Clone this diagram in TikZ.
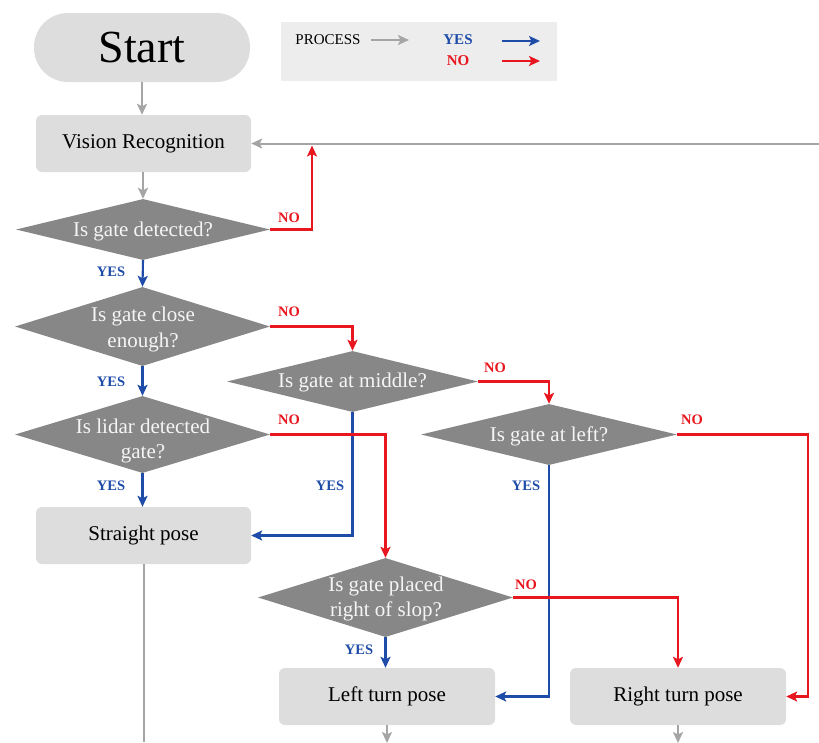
\documentclass[tikz,border=0pt]{standalone}
\usepackage{fontspec}
\setmainfont{LiberationSerif}[Extension=.ttf,UprightFont=*-Regular,BoldFont=*-Bold,
  ItalicFont=*-Italic,BoldItalicFont=*-BoldItalic]
\usetikzlibrary{shapes.geometric,arrows.meta}

\definecolor{boxgray}{HTML}{DCDDDC}
\definecolor{diagray}{HTML}{878787}
\definecolor{linegray}{HTML}{A5A5A5}
\definecolor{yesblue}{HTML}{1E4CA8}
\definecolor{nored}{HTML}{E8161E}
\definecolor{legendbg}{HTML}{EDEDED}

\tikzset{
  tip/.tip={Stealth[length=11pt,width=10pt,inset=2.5pt]},
  stepbox/.style={draw=none,fill=boxgray,rounded corners=6pt,minimum width=215pt,
    minimum height=57pt,inner sep=0pt,font=\fontsize{21}{25}\selectfont},
  startbox/.style={draw=none,fill=boxgray,rounded corners=34pt,minimum width=216pt,
    minimum height=69pt,inner sep=0pt,font=\fontsize{46}{52}\selectfont},
  decision/.style={diamond,draw=none,fill=diagray,inner sep=0pt},
  dtext/.style={text=white!96!black,align=center,inner sep=0pt,
    font=\fontsize{21}{25.5}\selectfont},
  garrow/.style={draw=linegray,line width=2pt,-tip},
  gline/.style={draw=linegray,line width=2pt},
  yarrow/.style={draw=yesblue,line width=2.1pt,-tip},
  narrow/.style={draw=nored,line width=2.1pt,-tip},
  ylabel/.style={text=yesblue,font=\fontsize{14.5}{16}\selectfont\bfseries,inner sep=0pt},
  nlabel/.style={text=nored,font=\fontsize{14.5}{16}\selectfont\bfseries,inner sep=0pt},
}

\begin{document}
\begin{tikzpicture}[x=1pt,y=-1pt]
\useasboundingbox (0,0) rectangle (819,742);

% legend
\node[fill=legendbg,minimum width=276pt,minimum height=59pt,inner sep=0pt] (legend) at (419,51.5) {};
\node[font=\fontsize{15}{17}\selectfont,inner sep=0pt] (lproc) at (328,40) {PROCESS};
\coordinate (lg1) at (371,40); \coordinate (lg2) at (409,40);
\draw[garrow] (lg1) -- (lg2);
\node[ylabel,font=\fontsize{15}{17}\selectfont\bfseries] (lyes) at (458,40) {YES};
\coordinate (lb1) at (502,41); \coordinate (lb2) at (540,41);
\draw[yarrow] (lb1) -- (lb2);
\node[nlabel,font=\fontsize{15}{17}\selectfont\bfseries] (lno) at (458,61) {NO};
\coordinate (lr1) at (502,61); \coordinate (lr2) at (540,61);
\draw[narrow] (lr1) -- (lr2);

% process boxes
\node[startbox] (start) at (142,47.5) {Start};
\node[stepbox] (vr) at (143.5,143.5) {Vision Recognition};
\node[stepbox] (sp) at (143.5,535.5) {Straight pose};
\node[stepbox,minimum width=216pt] (lt) at (387,696.5) {Left turn pose};
\node[stepbox,minimum width=216pt] (rt) at (678,696.5) {Right turn pose};

% decisions
\node[decision,minimum width=254pt,minimum height=61pt] (d1) at (143,229.5) {};
\node[dtext] (t1) at (143,231) {Is gate detected?};
\node[decision,minimum width=255pt,minimum height=79pt] (d2) at (142.5,326.5) {};
\node[dtext] (t2) at (143,329.5) {Is gate close\\enough?};
\node[decision,minimum width=255pt,minimum height=77pt] (d5) at (142.5,434.5) {};
\node[dtext] (t5) at (143,441) {Is lidar detected\\gate?};
\node[decision,minimum width=251pt,minimum height=61pt] (d3) at (352.5,381.5) {};
\node[dtext] (t3) at (352.5,382) {Is gate at middle?};
\node[decision,minimum width=256pt,minimum height=61pt] (d4) at (549,434.5) {};
\node[dtext] (t4) at (549,436) {Is gate at left?};
\node[decision,minimum width=255pt,minimum height=79pt] (d6) at (385.5,597.5) {};
\node[dtext] (t6) at (386,599) {Is gate placed\\right of slop?};

% loop-back line entering from the right edge
\coordinate (fb) at (819,143.5);
\coordinate (j1) at (312,145.5);
\draw[garrow] (vr.east -| fb) -- (vr.east);

% process flow
\draw[garrow] (start.south) -- (start.south |- vr.north);
\draw[garrow] (vr.south -| d1.north) -- (d1.north);

% YES branches
\draw[yarrow] (d1.south) -- (d2.north);
\draw[yarrow] (d2.south) -- (d5.north);
\draw[yarrow] (d5.south) -- (d5.south |- sp.north);
\draw[yarrow] (d3.south) |- (sp.east);
\draw[yarrow] (d4.south) |- (lt.east);
\draw[yarrow] (d6.south) -- (d6.south |- lt.north);

% NO branches
\coordinate (r4) at (808,434.5);
\draw[narrow] (d1.east) -| (j1);
\draw[narrow] (d2.east) -| (d3.north);
\draw[narrow] (d3.east) -| (d4.north);
\draw[narrow] (d5.east) -| (d6.north);
\draw[narrow] (d4.east) -- (r4) |- (rt.east);
\draw[narrow] (d6.east) -| (rt.north);

% outgoing lines at the bottom
\coordinate (e1) at (143.5,742);
\coordinate (e2) at (387,743);
\coordinate (e3) at (678,743);
\draw[gline] (sp.south) -- (e1);
\draw[garrow] (lt.south) -- (e2);
\draw[garrow] (rt.south) -- (e3);

% branch labels
\node[nlabel] (n1) at (289,218) {NO};
\node[ylabel] (y1) at (111,271.5) {YES};
\node[nlabel] (n2) at (289,312) {NO};
\node[ylabel] (y2) at (111,382) {YES};
\node[nlabel] (n3) at (495,367.5) {NO};
\node[nlabel] (n5) at (289,420) {NO};
\node[ylabel] (y5) at (111,486) {YES};
\node[ylabel] (y3) at (330,486) {YES};
\node[ylabel] (y4) at (526,486) {YES};
\node[nlabel] (n4) at (692,420) {NO};
\node[nlabel] (n6) at (526,584.5) {NO};
\node[ylabel] (y6) at (359,650) {YES};
\end{tikzpicture}
\end{document}
